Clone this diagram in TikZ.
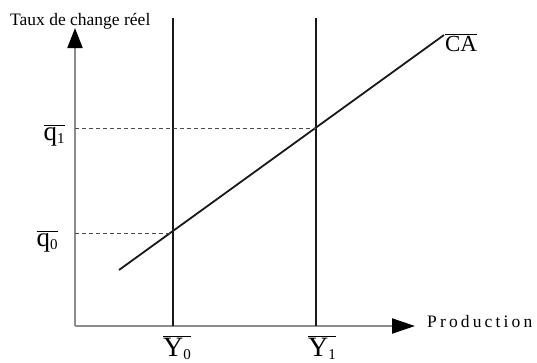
\documentclass[tikz,border=0pt]{standalone}
\usepackage{fontspec}
\setmainfont{Liberation Serif}
\usetikzlibrary{arrows.meta}
\newcommand{\lowsub}[1]{\raisebox{-0.12em}{\fontsize{15}{15}\selectfont #1}}
\begin{document}
\begin{tikzpicture}[x=1pt,y=-1pt,
  axis/.style={draw=black!45, line width=2pt},
  vline/.style={draw=black!90, line width=1.6pt},
  caline/.style={draw=black!90, line width=1.8pt},
  guide/.style={draw=black!70, line width=0.7pt, dash pattern=on 4pt off 3pt},
  tip/.style={-{Triangle[length=#1,width=15pt,fill=black,color=black]}},
  qlbl/.style={inner sep=0pt, anchor=base, font=\fontsize{27}{27}\selectfont},
  ylbl/.style={inner sep=0pt, anchor=base, font=\fontsize{28}{28}\selectfont},
  calbl/.style={inner sep=0pt, anchor=base, font=\fontsize{23}{23}\selectfont},
  axlbl/.style={inner sep=0pt, font=\fontsize{17.5}{17.5}\selectfont}]
\useasboundingbox (0,0) rectangle (537,362);
% axes
\coordinate (O) at (75,326);
\coordinate (ytip) at (75,28);
\coordinate (xtip) at (415,326);
\draw[axis, tip=20pt] (O) -- (ytip);
\draw[axis, tip=23pt] (O) -- (xtip);
\node[axlbl, anchor=base west] (ylab) at (10,25) {Taux de change réel};
\node[axlbl, anchor=base west] (xlab) at (427,327) {\addfontfeatures{LetterSpace=18}Production};
% vertical lines
\coordinate (Y0t) at (173,18);
\coordinate (Y0b) at (173,326);
\coordinate (Y1t) at (316,18);
\coordinate (Y1b) at (316,326);
\draw[vline] (Y0t) -- (Y0b);
\draw[vline] (Y1t) -- (Y1b);
% CA line
\coordinate (CAs) at (119,270);
\coordinate (CAe) at (444,35);
\draw[caline] (CAs) -- (CAe);
% dashed guides
\coordinate (q0a) at (75,233);
\coordinate (q0b) at (173,233);
\coordinate (q1a) at (75,128);
\coordinate (q1b) at (316,128);
\draw[guide] (q0a) -- (q0b);
\draw[guide] (q1a) -- (q1b);
% labels
\node[qlbl] (q1) at (54,140) {$\overline{\hbox{q\lowsub{1}}}$};
\node[qlbl] (q0) at (47,246) {$\overline{\hbox{q\lowsub{0}}}$};
\node[ylbl] (Y0) at (177,356) {$\overline{\hbox{Y\lowsub{0}}}$};
\node[ylbl] (Y1) at (322,356) {$\overline{\hbox{Y\lowsub{1}}}$};
\node[calbl] (CA) at (461,51) {$\overline{\hbox{CA}}$};
\end{tikzpicture}
\end{document}
